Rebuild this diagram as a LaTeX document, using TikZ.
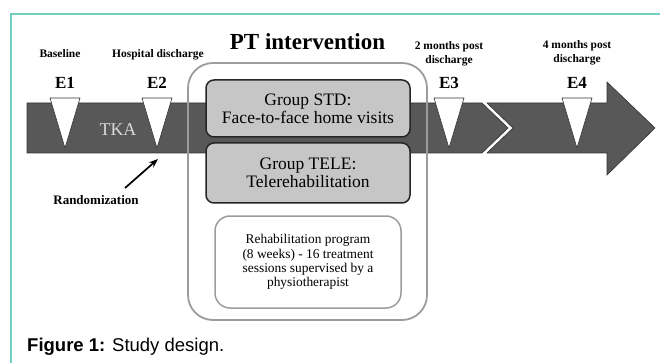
\documentclass[tikz,border=0pt]{standalone}
\usepackage{fontspec}
\setmainfont{Liberation Serif}
\setsansfont{Liberation Sans}
\usepackage{xcolor}
\usepackage{tikz}
\usetikzlibrary{arrows.meta,positioning}

\definecolor{framecol}{HTML}{72CFC2}
\definecolor{bandcol}{HTML}{585858}
\definecolor{groupcol}{HTML}{C6C6C6}
\definecolor{outlinecol}{HTML}{9C9C9C}

\begin{document}
\begin{tikzpicture}[x=1pt, y=-1pt,
    band/.style={fill=bandcol, draw=black!80, line width=0.6pt},
    marker/.style={fill=white, draw=black!80, line width=0.6pt},
    evt/.style={font=\rmfamily\bfseries\fontsize{17}{17}\selectfont, inner sep=0pt},
    when/.style={font=\rmfamily\bfseries\fontsize{11.5}{14}\selectfont, align=center, inner sep=0pt},
    group/.style={draw=black!85, fill=groupcol, line width=1.5pt, rounded corners=8pt, minimum width=204pt, align=center, font=\rmfamily\mdseries\fontsize{17.5}{18}\selectfont},
    outer/.style={draw=outlinecol, line width=1.8pt, rounded corners=25pt, minimum width=239pt, minimum height=257pt},
    prog/.style={draw=outlinecol, line width=1.5pt, rounded corners=15pt, minimum width=186pt, minimum height=92pt, align=center, font=\rmfamily\mdseries\fontsize{13.4}{14.3}\selectfont},
    rarr/.style={-{Stealth[length=3.2mm]}, line width=1.7pt}
]
    \useasboundingbox (0,0) rectangle (660,363);
    % frame
    \draw[framecol, line width=1.5pt] (11,363) -- (11,14) -- (660,14);
    % time line
    \draw[band] (27,103) -- (482,103) -- (508,128) -- (482,153) -- (27,153) -- cycle;
    \draw[band] (487,103) -- (607,103) -- (607,82) -- (655,128) -- (607,175) -- (607,153) -- (487,153) -- (513,128) -- cycle;
    \node[font=\rmfamily\fontsize{18}{18}\selectfont, text=gray!30] (tka) at (118,130) {TKA};
    \foreach \x/\name in {65/E1, 157/E2, 449/E3, 577/E4} {
        \draw[marker] (\x-15,98) -- (\x+15,98) -- (\x,148) -- cycle;
        \node[evt] (\name) at (\x,83) {\name};
    }
    \node[when] (base) at (60,54) {Baseline};
    \node[when] (hosp) at (158,55) {Hospital discharge};
    \node[when] (twom) at (449,54) {2 months post\\discharge};
    \node[when] (fourm) at (577,53) {4 months post\\discharge};
    % randomization
    \node[font=\rmfamily\bfseries\fontsize{13}{13}\selectfont] (rand) at (96,200) {Randomization};
    \coordinate (rfrom) at (125,188);
    \coordinate (rto) at (158,159);
    \draw[rarr] (rfrom) -- (rto);
    % intervention
    \node[outer] (pt) at (307.5,191.5) {};
    \node[font=\rmfamily\bfseries\fontsize{23}{23}\selectfont] (title) at (307.5,42) {PT intervention};
    \node[group, minimum height=57pt] (std) at (308,108.5) {Group STD:\\Face-to-face home visits};
    \node[group, minimum height=60pt] (tele) at (308,173) {Group TELE:\\Telerehabilitation};
    \node[prog] (rehab) at (308,262) {Rehabilitation program\\(8 weeks) - 16 treatment\\sessions supervised by a\\physiotherapist};
    % caption
    \node[anchor=west, inner sep=0pt, font=\sffamily\fontsize{18.5}{18.5}\selectfont] (cap) at (27,347) {\textbf{Figure 1:} Study design.};
\end{tikzpicture}
\end{document}
